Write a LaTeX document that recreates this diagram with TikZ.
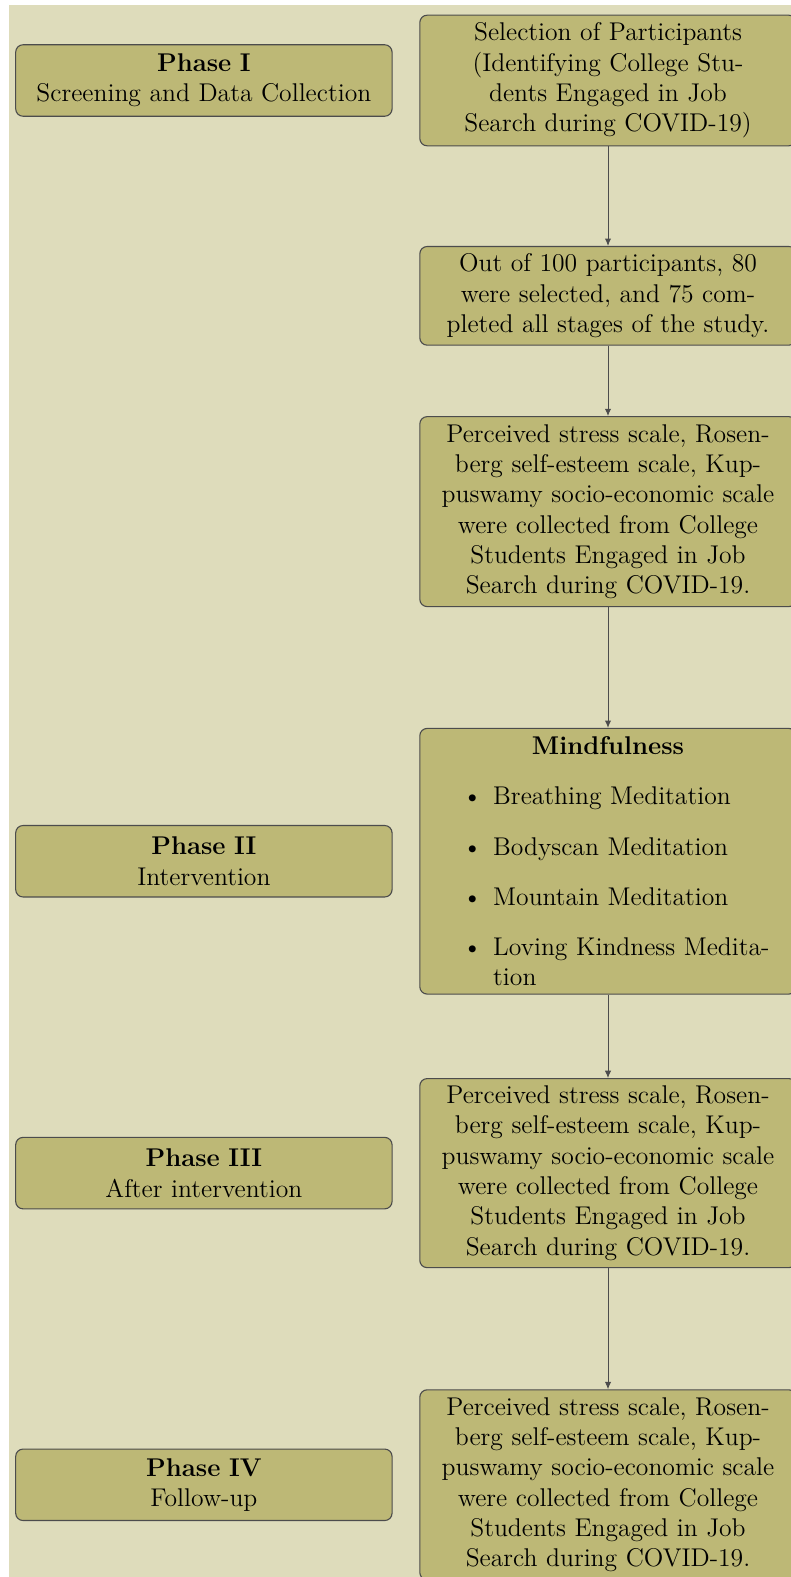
\documentclass[12pt,tikz,border=0pt]{standalone}
\usepackage{tikz}
\usetikzlibrary{arrows.meta,positioning}
\definecolor{pagebg}{RGB}{222,220,187}
\definecolor{boxfill}{RGB}{189,184,118}

\begin{document}
\begin{tikzpicture}[x=0.5443pt,y=-0.5443pt,
  nodes={font=\fontsize{13.95pt}{16.5pt}\selectfont},
  phasebox/.style={draw=black!70,fill=boxfill,rounded corners=4pt,line width=0.6pt,
    minimum width=7.2cm,minimum height=38.9pt,text width=6.5cm,align=center,inner sep=0pt},
  stepbox/.style={phasebox,minimum height=#1},
  arrowline/.style={draw=black!70,line width=0.5pt,-{Latex[length=1.4mm,width=1.2mm]}}]
\useasboundingbox (0,0) rectangle (791,1577);
\fill[pagebg] (9,5) rectangle (791,1577);

\node[stepbox=71.1pt] (sel) at (608,80.5)
  {Selection of Participants\\(Identifying College Stu-\\dents Engaged in Job\\Search during COVID-19)};
\node[stepbox=53.7pt,below=54.2pt of sel] (out)
  {Out of 100 participants, 80\\were selected, and 75 com-\\pleted all stages of the study.};
\node[stepbox=103.4pt,below=38.3pt of out] (pre)
  {Perceived stress scale, Rosen-\\berg self-esteem scale, Kup-\\puswamy socio-economic scale\\were collected from College\\Students Engaged in Job\\Search during COVID-19.};
\node[stepbox=144.6pt,align=left,below=65.7pt of pre] (mind)
  {{\centering\textbf{Mindfulness}\par}
   \setlength{\partopsep}{0.9pt}
   \begin{itemize}\setlength{\itemsep}{5.8pt}
     \item Breathing Meditation
     \item Bodyscan Meditation
     \item Mountain Meditation
     \item Loving Kindness Medita-\newline tion
   \end{itemize}};
\node[stepbox=102.9pt,below=45.4pt of mind] (post)
  {Perceived stress scale, Rosen-\\berg self-esteem scale, Kup-\\puswamy socio-economic scale\\were collected from College\\Students Engaged in Job\\Search during COVID-19.};
\node[stepbox=103.4pt,below=65.9pt of post] (foll)
  {Perceived stress scale, Rosen-\\berg self-esteem scale, Kup-\\puswamy socio-economic scale\\were collected from College\\Students Engaged in Job\\Search during COVID-19.};

\node[phasebox,left=14.5pt of sel] (ph1) {\textbf{Phase I}\\Screening and Data Collection};
\node[phasebox,left=14.5pt of mind] (ph2) {\textbf{Phase II}\\Intervention};
\node[phasebox,left=14.5pt of post] (ph3) {\textbf{Phase III}\\After intervention};
\node[phasebox,left=14.5pt of foll] (ph4) {\textbf{Phase IV}\\Follow-up};

\draw[arrowline] (sel) -- (out);
\draw[arrowline] (out) -- (pre);
\draw[arrowline] (pre) -- (mind);
\draw[arrowline] (mind) -- (post);
\draw[arrowline] (post) -- (foll);
\end{tikzpicture}
\end{document}
